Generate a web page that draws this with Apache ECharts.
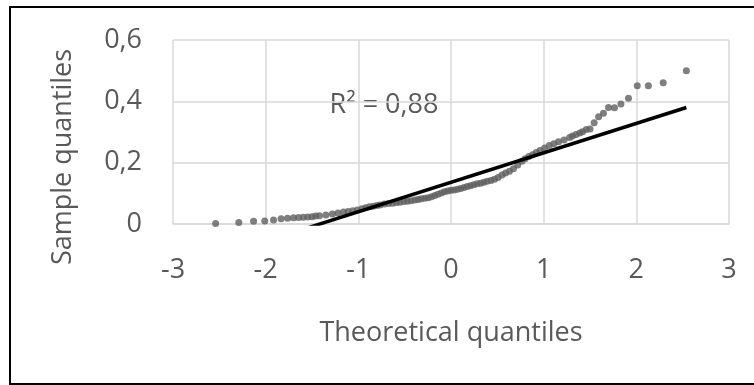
<!DOCTYPE html>
<html>
<head>
<meta charset="utf-8">
<script src="https://cdn.jsdelivr.net/npm/echarts@6/dist/echarts.min.js"></script>
<style>html,body{margin:0;padding:0;background:#fff}#c{width:754px;height:385px}</style>
</head>
<body>
<div id="c"></div>
<script>
// Theoretical quantiles (x) and sample quantiles (y)
var theoreticalQ = [-2.54,-2.29,-2.13,-2.01,-1.915,-1.834,-1.764,-1.70,-1.645,-1.593,-1.545,-1.50,-1.46,-1.42,-1.35,-1.28,-1.22,-1.16,-1.11,-1.06,-1.01,-0.96,-0.92,-0.88,-0.84,-0.80,-0.765,-0.72,-0.674,-0.63,-0.589,-0.55,-0.508,-0.47,-0.431,-0.39,-0.355,-0.32,-0.282,-0.245,-0.21,-0.175,-0.14,-0.105,-0.07,-0.035,0,0.035,0.07,0.105,0.14,0.175,0.21,0.245,0.282,0.32,0.355,0.39,0.431,0.47,0.508,0.55,0.589,0.63,0.674,0.72,0.765,0.80,0.84,0.88,0.92,0.96,1.01,1.06,1.11,1.16,1.22,1.28,1.31,1.35,1.39,1.42,1.46,1.50,1.545,1.593,1.645,1.70,1.764,1.834,1.915,2.01,2.13,2.29,2.54];
var sampleQ = [0.002,0.005,0.009,0.010,0.013,0.017,0.019,0.020,0.021,0.022,0.023,0.024,0.026,0.027,0.029,0.033,0.036,0.039,0.041,0.043,0.046,0.050,0.053,0.056,0.058,0.060,0.062,0.065,0.067,0.068,0.070,0.071,0.073,0.074,0.076,0.078,0.080,0.082,0.084,0.086,0.089,0.093,0.097,0.101,0.105,0.108,0.110,0.111,0.113,0.116,0.119,0.122,0.125,0.128,0.131,0.133,0.136,0.139,0.142,0.146,0.152,0.160,0.166,0.172,0.180,0.192,0.205,0.213,0.220,0.226,0.233,0.240,0.248,0.256,0.262,0.268,0.274,0.282,0.287,0.292,0.297,0.301,0.308,0.310,0.330,0.350,0.361,0.380,0.379,0.391,0.410,0.451,0.451,0.461,0.500];
// Linear trendline end points
var trendX = [-2.54, 2.54];
var trendY = [-0.108, 0.380];
var xTicks = [-3,-2,-1,0,1,2,3];
var yTicks = [0,0.2,0.4,0.6];
var rSquaredLabel = 'R² = 0,88';

var FONT = '"Open Sans", sans-serif';
var TXT = '#595959';
var GRID = '#d9d9d9';

var pts = theoreticalQ.map(function(x,i){return [x, sampleQ[i]];});
var trend = trendX.map(function(x,i){return [x, trendY[i]];});

var chart = echarts.init(document.getElementById('c'), null, {renderer:'canvas'});
chart.setOption({
  animation:false,
  backgroundColor:'#fff',
  grid:{left:173, right:25, top:40, bottom:161, containLabel:false},
  xAxis:{
    type:'value', min:xTicks[0], max:xTicks[xTicks.length-1], interval:1,
    axisLine:{show:true, onZero:false, lineStyle:{color:GRID, width:1.5}},
    axisTick:{show:false},
    axisLabel:{color:TXT, fontFamily:FONT, fontSize:27, margin:33},
    splitLine:{show:true, lineStyle:{color:GRID, width:1.5}}
  },
  yAxis:{
    type:'value', min:yTicks[0], max:yTicks[yTicks.length-1], interval:0.2,
    axisLine:{show:false},
    axisTick:{show:false},
    axisLabel:{color:TXT, fontFamily:FONT, fontSize:27, margin:31,
      formatter:function(v){return v===0?'0':v.toFixed(1).replace('.',',');}},
    splitLine:{show:true, lineStyle:{color:GRID, width:1.5}}
  },
  series:[
    {type:'scatter', data:pts, symbol:'circle', symbolSize:7,
     itemStyle:{color:'#5f5f5f'}, z:2},
    {type:'line', data:trend, showSymbol:false, symbol:'none', clip:true,
     lineStyle:{color:'#000', width:3.5}, z:3}
  ],
  graphic:[
    {type:'rect', shape:{x:10, y:7, width:800, height:377},
     style:{fill:'none', stroke:'#000', lineWidth:2}, silent:true},
    {type:'text', x:451, y:333, style:{text:'Theoretical quantiles', fill:TXT, font:'27px "Open Sans", sans-serif', textAlign:'center', textVerticalAlign:'middle'}},
    {type:'text', x:63, y:157, rotation:Math.PI/2, style:{text:'Sample quantiles', fill:TXT, font:'27px "Open Sans", sans-serif', textAlign:'center', textVerticalAlign:'middle'}},
    {type:'text', x:384, y:105, style:{text:rSquaredLabel, fill:TXT, font:'27px "Open Sans", sans-serif', textAlign:'center', textVerticalAlign:'middle'}}
  ]
});
</script>
</body>
</html>
